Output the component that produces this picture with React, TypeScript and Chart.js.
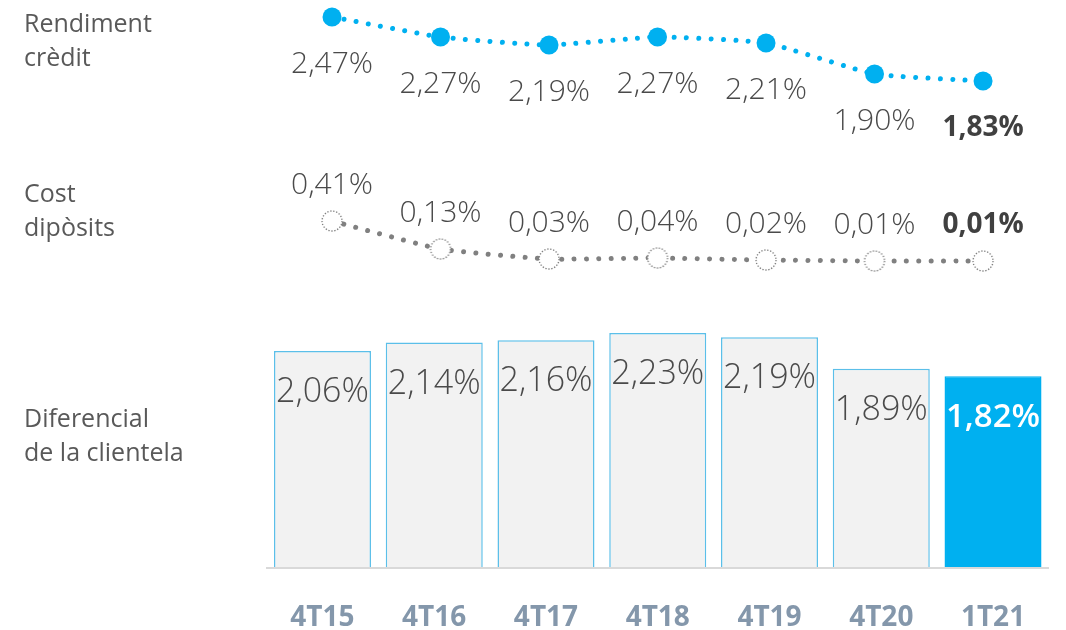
import React, { useEffect, useRef } from "react";
import { Chart, registerables } from "chart.js";

Chart.register(...registerables);

const categories = ["4T15", "4T16", "4T17", "4T18", "4T19", "4T20", "1T21"];
const rendimentCredit = [2.47, 2.27, 2.19, 2.27, 2.21, 1.9, 1.83];
const costDiposits = [0.41, 0.13, 0.03, 0.04, 0.02, 0.01, 0.01];
const diferencial = [2.06, 2.14, 2.16, 2.23, 2.19, 1.89, 1.82];
const rowTitles = [
  ["Rendiment", "crèdit"],
  ["Cost", "dipòsits"],
  ["Diferencial", "de la clientela"],
];

const FONT = "'Open Sans', 'Noto Sans', sans-serif";
const BLUE = "#00b0f0";
const GRAY_LINE = "#808080";
const TEXT = "#595959";
const VALUE_TEXT = "#4a4a4a";

const fmt = (v: number) => v.toFixed(2).replace(".", ",") + "%";

function dottedCircle(r: number, color: string) {
  const c = document.createElement("canvas");
  const s = Math.ceil(r * 2 + 4);
  c.width = s;
  c.height = s;
  const g = c.getContext("2d")!;
  g.beginPath();
  g.arc(s / 2, s / 2, r, 0, Math.PI * 2);
  g.fillStyle = "#ffffff";
  g.fill();
  g.setLineDash([1.3, 1.7]);
  g.strokeStyle = color;
  g.lineWidth = 1.3;
  g.stroke();
  return c;
}

function drawText(ctx: CanvasRenderingContext2D, text: string, x: number, centerY: number, size: number, weight: string, color: string) {
  ctx.save();
  ctx.font = `${weight} ${size}px ${FONT}`;
  ctx.fillStyle = color;
  ctx.textAlign = "center";
  ctx.textBaseline = "alphabetic";
  ctx.fillText(text, x, centerY + (size * 0.714) / 2);
  ctx.restore();
}

const labelPlugin = {
  id: "valueLabels",
  afterDatasetsDraw(chart: any) {
    const ctx = chart.ctx as CanvasRenderingContext2D;
    chart.data.datasets.forEach((ds: any, di: number) => {
      const meta = chart.getDatasetMeta(di);
      const n = meta.data.length;
      meta.data.forEach((el: any, i: number) => {
        const last = i === n - 1;
        const v = ds.rawValues[i];
        if (ds.labelKind === "bar") {
          drawText(ctx, fmt(v), el.x, el.y + 39, last ? 33 : 34, last ? "600" : "300", last ? "#ffffff" : VALUE_TEXT);
        } else if (ds.labelKind === "below") {
          drawText(ctx, fmt(v), el.x, el.y + 45, last ? 28 : 30, last ? "700" : "300", last ? "#404040" : VALUE_TEXT);
        } else {
          drawText(ctx, fmt(v), el.x, el.y - 38, last ? 28 : 30, last ? "700" : "300", last ? "#404040" : VALUE_TEXT);
        }
      });
    });
  },
};

export default function App() {
  const ref = useRef<HTMLCanvasElement>(null);

  useEffect(() => {
    if (!ref.current) return;
    const hollow = dottedCircle(10, "#7a7a7a");
    const chart = new Chart(ref.current, {
      type: "bar",
      data: {
        labels: categories,
        datasets: [
          {
            type: "line",
            label: "Rendiment crèdit",
            data: rendimentCredit.map((v, i) => ({ x: i, y: v })),
            rawValues: rendimentCredit,
            labelKind: "below",
            xAxisID: "xL",
            yAxisID: "yTop",
            borderColor: BLUE,
            borderWidth: 5,
            borderDash: [0.01, 12.3],
            borderCapStyle: "round",
            tension: 0.15,
            pointStyle: "circle",
            pointRadius: 9.5,
            pointBackgroundColor: BLUE,
            pointBorderWidth: 0,
            clip: false,
          } as any,
          {
            type: "line",
            label: "Cost dipòsits",
            data: costDiposits.map((v, i) => ({ x: i, y: v })),
            rawValues: costDiposits,
            labelKind: "above",
            xAxisID: "xL",
            yAxisID: "yMid",
            borderColor: GRAY_LINE,
            borderWidth: 5,
            borderDash: [0.01, 12.3],
            borderCapStyle: "round",
            tension: 0.15,
            pointStyle: hollow,
            pointRadius: 10,
            clip: false,
          } as any,
          {
            type: "bar",
            label: "Diferencial de la clientela",
            data: diferencial,
            rawValues: diferencial,
            labelKind: "bar",
            xAxisID: "x",
            yAxisID: "yBar",
            grouped: false,
            backgroundColor: diferencial.map((_, i) => (i === diferencial.length - 1 ? BLUE : "#f2f2f2")),
            borderColor: diferencial.map((_, i) => (i === diferencial.length - 1 ? BLUE : "#5bbfe9")),
            borderWidth: 1.5,
            borderSkipped: "bottom",
            categoryPercentage: 1,
            barPercentage: 0.868,
          } as any,
        ],
      },
      options: {
        responsive: false,
        animation: false,
        events: [],
        layout: { autoPadding: false, padding: { left: 266.6, right: 17.1, top: 0, bottom: 0 } },
        plugins: { legend: { display: false }, tooltip: { enabled: false } },
        scales: {
          x: {
            type: "category",
            offset: true,
            grid: { display: false, drawTicks: false },
            border: { display: true, color: "#d9d9d9", width: 2, z: 1 },
            ticks: {
              padding: 33,
              color: "#8497ab",
              font: { family: FONT, size: 28, weight: "bold" },
            },
            afterFit: (scale: any) => {
              scale.height = 62;
            },
          },
          xL: { type: "linear", display: false, offset: false, grid: { offset: false }, min: -0.603, max: 6.607 },
          yBar: { type: "linear", display: false, offset: false, min: 0, max: 5.389 },
          yTop: { type: "linear", display: false, offset: false, min: 2.64 - 5.68, max: 2.64 },
          yMid: { type: "linear", display: false, offset: false, min: 2.62 - 5.68, max: 2.62 },
        },
      } as any,
      plugins: [labelPlugin],
    });
    return () => chart.destroy();
  }, []);

  const tops = [5, 175, 400];

  return (
    <div style={{ position: "absolute", left: 0, top: 0, width: 1066, height: 630, background: "#ffffff" }}>
      <canvas ref={ref} width={1066} height={630} style={{ display: "block", position: "absolute", left: 0, top: 0 }} />
      {rowTitles.map((lines, k) => (
        <div
          key={k}
          style={{
            position: "absolute",
            left: 24,
            top: tops[k],
            fontFamily: FONT,
            fontSize: 25,
            lineHeight: "34px",
            color: TEXT,
            whiteSpace: "nowrap",
          }}
        >
          {lines.map((l, j) => (
            <div key={j}>{l}</div>
          ))}
        </div>
      ))}
    </div>
  );
}
